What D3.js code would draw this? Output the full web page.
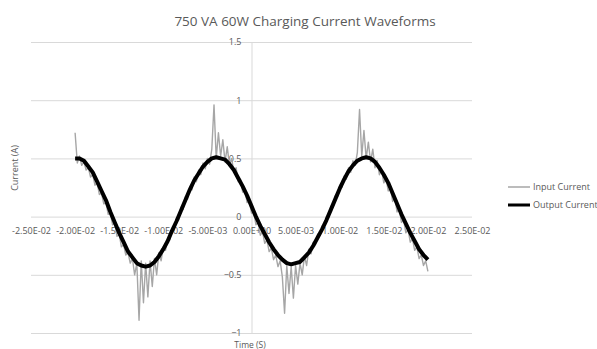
<!DOCTYPE html>
<html>
<head>
<meta charset="utf-8">
<script src="https://cdn.jsdelivr.net/npm/d3@7"></script>
<style>
body { margin: 0; background: #fff; }
text { font-family: "Open Sans", sans-serif; fill: #595959; }
</style>
</head>
<body>
<svg id="chart" width="597" height="349"></svg>
<script>
// tick values
var xTicks = [-0.025, -0.02, -0.015, -0.01, -0.005, 0, 0.005, 0.01, 0.015, 0.02, 0.025];
var yTicks = [-1, -0.5, 0, 0.5, 1, 1.5];
var seriesNames = ["Input Current", "Output Current"];

// [time (ms), current (A)]
var inputCurrent = [
	[-20, 0.72], [-19.75, 0.46], [-19.5, 0.52], [-19.25, 0.44], [-19, 0.47], [-18.75, 0.40], [-18.5, 0.42], [-18.25, 0.34],
	[-18, 0.36], [-17.75, 0.27], [-17.5, 0.29], [-17.25, 0.19], [-17, 0.20], [-16.75, 0.11], [-16.5, 0.12], [-16.25, 0.02],
	[-16, 0.03], [-15.75, -0.07], [-15.5, -0.06], [-15.25, -0.17], [-15, -0.15], [-14.75, -0.26], [-14.5, -0.24], [-14.25, -0.33],
	[-14, -0.31], [-13.75, -0.40], [-13.5, -0.36], [-13.25, -0.50], [-13, -0.40], [-12.75, -0.89], [-12.5, -0.38], [-12.25, -0.74],
	[-12, -0.40], [-11.75, -0.69], [-11.5, -0.38], [-11.25, -0.60], [-11, -0.36], [-10.75, -0.50], [-10.5, -0.31], [-10.25, -0.38],
	[-10, -0.26], [-9.75, -0.29], [-9.5, -0.19], [-9.25, -0.20], [-9, -0.10], [-8.75, -0.12], [-8.5, -0.01], [-8.25, -0.03],
	[-8, 0.08], [-7.75, 0.06], [-7.5, 0.17], [-7.25, 0.15], [-7, 0.26], [-6.75, 0.23], [-6.5, 0.34], [-6.25, 0.30],
	[-6, 0.40], [-5.75, 0.36], [-5.5, 0.46], [-5.25, 0.41], [-5, 0.50], [-4.75, 0.45], [-4.5, 0.58], [-4.25, 0.96],
	[-4, 0.50], [-3.75, 0.72], [-3.5, 0.52], [-3.25, 0.66], [-3, 0.47], [-2.75, 0.60], [-2.5, 0.44], [-2.25, 0.50],
	[-2, 0.38], [-1.75, 0.42], [-1.5, 0.30], [-1.25, 0.32], [-1, 0.21], [-0.75, 0.23], [-0.5, 0.12], [-0.25, 0.14],
	[0, 0.03], [0.25, 0.04], [0.5, -0.07], [0.75, -0.05], [1, -0.16], [1.25, -0.13], [1.5, -0.23], [1.75, -0.20],
	[2, -0.30], [2.25, -0.27], [2.5, -0.37], [2.75, -0.33], [3, -0.43], [3.25, -0.38], [3.5, -0.52], [3.75, -0.83],
	[4, -0.42], [4.25, -0.66], [4.5, -0.43], [4.75, -0.70], [5, -0.42], [5.25, -0.58], [5.5, -0.40], [5.75, -0.50],
	[6, -0.34], [6.25, -0.42], [6.5, -0.28], [6.75, -0.32], [7, -0.22], [7.25, -0.24], [7.5, -0.15], [7.75, -0.16],
	[8, -0.08], [8.25, -0.09], [8.5, 0.00], [8.75, -0.01], [9, 0.09], [9.25, 0.08], [9.5, 0.18], [9.75, 0.17],
	[10, 0.27], [10.25, 0.25], [10.5, 0.35], [10.75, 0.32], [11, 0.42], [11.25, 0.38], [11.5, 0.48], [11.75, 0.44],
	[12, 0.55], [12.25, 0.92], [12.5, 0.52], [12.75, 0.74], [13, 0.50], [13.25, 0.64], [13.5, 0.47], [13.75, 0.58],
	[14, 0.42], [14.25, 0.48], [14.5, 0.36], [14.75, 0.40], [15, 0.29], [15.25, 0.33], [15.5, 0.22], [15.75, 0.25],
	[16, 0.13], [16.25, 0.16], [16.5, 0.04], [16.75, 0.07], [17, -0.05], [17.25, -0.03], [17.5, -0.14], [17.75, -0.11],
	[18, -0.22], [18.25, -0.19], [18.5, -0.29], [18.75, -0.26], [19, -0.36], [19.25, -0.33], [19.5, -0.42], [19.75, -0.38],
	[20, -0.47]
];

var outputCurrent = [
	[-20, 0.50], [-19.5, 0.50], [-19, 0.48], [-18.5, 0.43], [-18, 0.38], [-17.5, 0.30], [-17, 0.22], [-16.5, 0.14],
	[-16, 0.04], [-15.5, -0.05], [-15, -0.14], [-14.5, -0.22], [-14, -0.30], [-13.5, -0.35], [-13, -0.40], [-12.5, -0.42],
	[-12, -0.43], [-11.5, -0.42], [-11, -0.39], [-10.5, -0.34], [-10, -0.28], [-9.5, -0.21], [-9, -0.12], [-8.5, -0.04],
	[-8, 0.05], [-7.5, 0.14], [-7, 0.23], [-6.5, 0.31], [-6, 0.37], [-5.5, 0.43], [-5, 0.47], [-4.5, 0.50],
	[-4, 0.51], [-3.5, 0.50], [-3, 0.49], [-2.5, 0.45], [-2, 0.40], [-1.5, 0.33], [-1, 0.26], [-0.5, 0.18],
	[0, 0.09], [0.5, 0.00], [1, -0.08], [1.5, -0.15], [2, -0.22], [2.5, -0.28], [3, -0.33], [3.5, -0.37],
	[4, -0.40], [4.5, -0.41], [5, -0.40], [5.5, -0.39], [6, -0.35], [6.5, -0.31], [7, -0.25], [7.5, -0.18],
	[8, -0.11], [8.5, -0.03], [9, 0.06], [9.5, 0.15], [10, 0.24], [10.5, 0.32], [11, 0.39], [11.5, 0.44],
	[12, 0.48], [12.5, 0.50], [13, 0.51], [13.5, 0.50], [14, 0.47], [14.5, 0.42], [15, 0.36], [15.5, 0.29],
	[16, 0.20], [16.5, 0.11], [17, 0.02], [17.5, -0.06], [18, -0.14], [18.5, -0.21], [19, -0.28], [19.5, -0.33],
	[20, -0.37]
];

// plot area
var plot = { left: 31, right: 472, top: 42, bottom: 333 };

var xScale = d3.scaleLinear().domain([-0.025, 0.025]).range([plot.left, plot.right]);
var yScale = d3.scaleLinear().domain([-1, 1.5]).range([plot.bottom, plot.top]);

// excel style 0.00E+00
function sciFormat(v){
	if (v === 0) return "0.00E+00";
	var exp = Math.floor(Math.log10(Math.abs(v)));
	var mant = v / Math.pow(10, exp);
	if (Math.abs(mant) >= 9.995) { mant = mant / 10; exp += 1; }
	var e = Math.abs(exp);
	return mant.toFixed(2) + "E" + (exp < 0 ? "-" : "+") + (e < 10 ? "0" + e : e);
}

var svg = d3.select("#chart");

// title
svg.append("text").attr("x", 305).attr("y", 26).attr("text-anchor", "middle")
		.style("font-size", "13.5px").text("750 VA 60W Charging Current Waveforms");

// horizontal gridlines
var grid = svg.append("g").attr("transform", "translate(" + plot.left + ",0)")
		.call(d3.axisRight(yScale).tickValues(yTicks).tickSize(plot.right - plot.left).tickFormat(""));
grid.select(".domain").remove();
grid.selectAll("line").attr("stroke", "#d9d9d9");

// y axis at x = 0
var yAxis = svg.append("g").attr("transform", "translate(" + xScale(0) + ",0)")
		.call(d3.axisLeft(yScale).tickValues(yTicks).tickSize(0).tickPadding(10).tickFormat(d3.format("")));
yAxis.select(".domain").attr("stroke", "#d9d9d9");
yAxis.selectAll("text").style("font-size", "9px").attr("fill", "#595959");

// x axis labels along y = 0
var xAxis = svg.append("g").attr("transform", "translate(0," + yScale(0) + ")")
		.call(d3.axisBottom(xScale).tickValues(xTicks).tickSize(0).tickPadding(11).tickFormat(sciFormat));
xAxis.select(".domain").remove();
xAxis.selectAll("text").style("font-size", "9px").attr("fill", "#595959");

// axis titles
svg.append("text").attr("transform", "translate(18,168) rotate(-90)").attr("text-anchor", "middle")
		.style("font-size", "9px").text("Current (A)");
svg.append("text").attr("x", 250).attr("y", 348).attr("text-anchor", "middle")
		.style("font-size", "8.5px").text("Time (S)");

// lines
var line = d3.line().x(function(d){ return xScale(d[0] / 1000); }).y(function(d){ return yScale(d[1]); });
svg.append("path").attr("d", line(inputCurrent)).attr("fill", "none")
		.attr("stroke", "#a6a6a6").attr("stroke-width", 1.4).attr("stroke-linejoin", "round");
svg.append("path").attr("d", line(outputCurrent)).attr("fill", "none")
		.attr("stroke", "#000").attr("stroke-width", 4).attr("stroke-linejoin", "round");

// legend
var legend = svg.append("g");
var legendStyle = [{ color: "#a6a6a6", w: 1.5, y: 187 }, { color: "#000", w: 3, y: 205 }];
seriesNames.forEach(function(name, i){
	legend.append("line").attr("x1", 508).attr("x2", 530).attr("y1", legendStyle[i].y).attr("y2", legendStyle[i].y)
			.attr("stroke", legendStyle[i].color).attr("stroke-width", legendStyle[i].w);
	legend.append("text").attr("x", 533).attr("y", legendStyle[i].y).attr("dy", "0.35em")
			.style("font-size", "9px").text(name);
});
</script>
</body>
</html>
